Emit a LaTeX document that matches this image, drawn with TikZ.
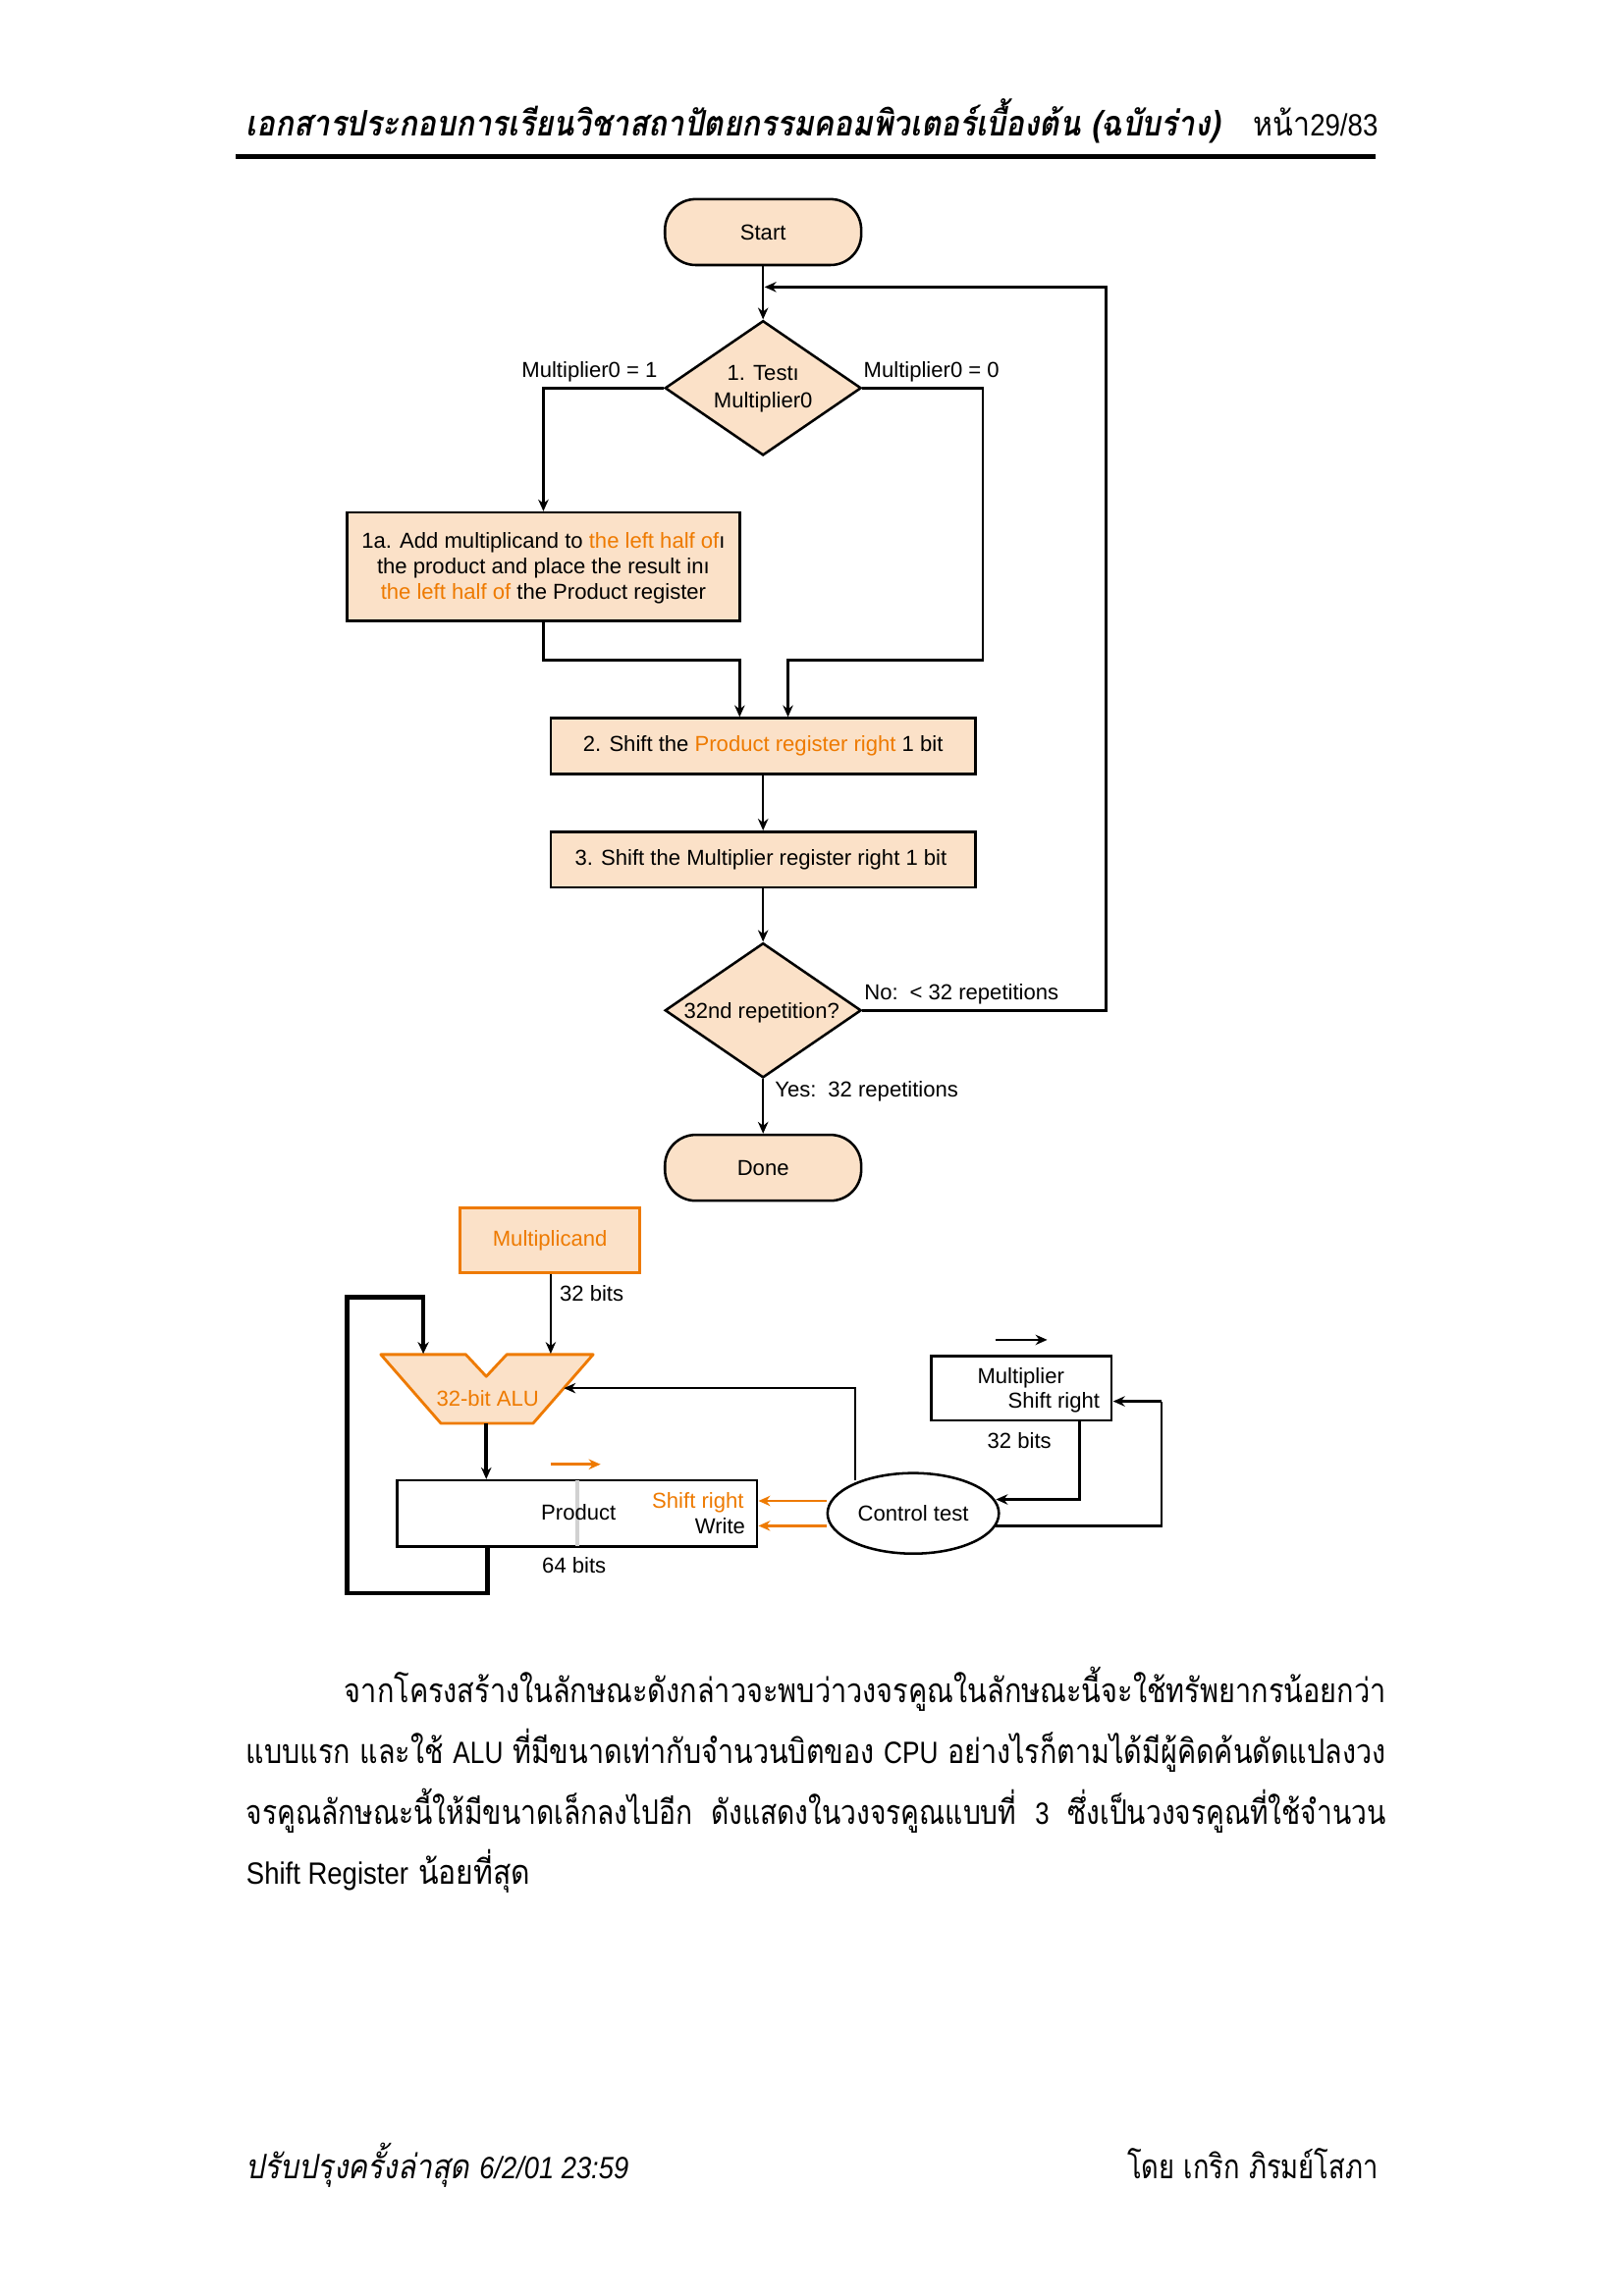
\documentclass[tikz,border=0pt]{standalone}
\usepackage{fontspec}
\usepackage{graphicx}
\usetikzlibrary{shapes.geometric,arrows.meta,calc}
\setmainfont{Liberation Sans}
\newfontfamily\thai[Script=Thai,ItalicFont={Loma Oblique},BoldFont={Loma Bold},BoldItalicFont={Loma Bold Oblique}]{Loma}
\definecolor{peach}{HTML}{FBE1C8}
\definecolor{orng}{HTML}{EE7A00}
\newcommand{\fitw}[2]{\resizebox{#1pt}{\height}{#2}}
\newcommand{\lat}[1]{{\fontfamily{\rmdefault}\fontsize{21}{24}\selectfont #1}}
\newcommand{\dn}[1]{\raisebox{-1pt}{#1}}
\tikzset{
 x=1pt,y=-1pt,
 lab/.style={inner sep=0,font=\fontsize{14.8}{17.7}\selectfont},
 term/.style={draw,fill=peach,line width=1.7pt,rounded corners=21pt,minimum width=134pt,minimum height=45pt,inner sep=0,font=\fontsize{14.8}{17.7}\selectfont},
 dec/.style={draw,fill=peach,line width=1.7pt,diamond,aspect=1.457,minimum width=134pt,minimum height=92pt,inner sep=0},
 proc/.style={draw,fill=peach,line width=1.7pt,minimum height=38pt,inner sep=0,align=center,font=\fontsize{14.8}{17.7}\selectfont},
 reg/.style={draw,line width=1.7pt,inner sep=0,font=\fontsize{14.8}{17.7}\selectfont},
 inner/.style={lab,align=center,label distance=0pt},
 conn/.style={line width=1.7pt},
 arr/.style={line width=1.7pt,-{Stealth[length=8pt,width=7pt]}},
 thick loop/.style={line width=3.2pt,line join=miter,-{Stealth[length=8pt,width=7.5pt]}},
 oarr/.style={arr,line width=1.9pt,color=orng},
 thtext/.style={inner sep=0,anchor=base west,font=\thai\fontsize{23}{26}\selectfont},
}
\begin{document}
\begin{tikzpicture}
\useasboundingbox[fill=white] (0,0) rectangle (1108.1,1568);
% header
\node[thtext,font=\thai\bfseries\itshape\fontsize{24}{26}\selectfont] (hdr) at (168,93) {\fitw{665}{เอกสารประกอบการเรียนวิชาสถาปัตยกรรมคอมพิวเตอร์เบื้องต้น (ฉบับร่าง)}};
\node[thtext,anchor=base east] (pg) at (941,93) {\fitw{85}{หน้า\lat{29/83}}};
\fill (161,105) rectangle (939,108.8);
% flowchart
\node[term] (start) at (521,158.5) {\dn{Start}};
\node[dec,label={[inner,font=\fontsize{14.8}{18.7}\selectfont,yshift=-0.8pt]center:1. Testı\\Multiplier0}] (d1) at (521,265) {};
\node[proc,minimum width=268pt,minimum height=74pt,label={[inner,yshift=-1pt]center:1a. Add multiplicand to \textcolor{orng}{the left half of}ı\\the product and place the result inı\\\textcolor{orng}{the left half of} the Product register}] (b1) at (371,387) {};
\node[proc,minimum width=290pt] (b2) at (521,509.5) {\dn{2. Shift the \textcolor{orng}{Product register right} 1 bit}};
\node[proc,minimum width=290pt] (b3) at (521,587) {\dn{\hspace{-3pt}3. Shift the Multiplier register right 1 bit}};
\node[dec,label={[inner,yshift=-1.5pt,xshift=-1pt]center:32nd repetition?}] (d2) at (521,690) {};
\node[term] (done) at (521,797.5) {\dn{Done}};
\node[lab] (m1) at (402.5,254) {Multiplier0 = 1};
\node[lab] (m0) at (636,254) {Multiplier0 = 0};
\node[lab,anchor=west] (no) at (590,679) {No: \,< 32 repetitions};
\node[lab,anchor=west] (yes) at (529,745) {Yes:\, 32 repetitions};
\coordinate (merge) at (521,196);
\coordinate (loopc) at (755,196);
\draw[arr] (start) -- (d1);
\draw[arr] (d2.east) -- (d2.east -| loopc) -- (loopc) -- ([xshift=1pt]merge);
\draw[arr] (d1.west) -| (b1.north);
\coordinate (j1) at (505,451);
\coordinate (j2) at (538,451);
\draw[arr] (b1.south) |- (j1) -- (j1 |- b2.north);
\draw[arr] (d1.east) -| (671,451) -- (j2) -- (j2 |- b2.north);
\draw[arr] (b2) -- (b3);
\draw[arr] (b3) -- (d2);
\draw[arr] (d2) -- (done);
% datapath
\node[draw=orng,fill=peach,line width=1.9pt,minimum width=123pt,minimum height=44pt,inner sep=0,text=orng,font=\fontsize{14.8}{17.7}\selectfont] (mcand) at (375.5,847) {\raisebox{-0.5pt}{Multiplicand}};
\node[lab] (b32a) at (404,883) {32 bits};
\draw[draw=orng,fill=peach,line width=1.9pt,line join=round] (260,925) -- (318,925) -- (332,940) -- (346,925) -- (405,925) -- (364,972) -- (301,972) -- cycle;
\node[lab,text=orng] (alu) at (333,955) {32-bit ALU};
\coordinate (aluin1) at (289,924.5);
\coordinate (aluin2) at (376,924.5);
\coordinate (aluout) at (332,972);
\coordinate (alur) at (385,948);
\node[reg,minimum width=246pt,minimum height=45pt] (prod) at (394,1033.5) {};
\draw[line width=2.5pt,black!18,shorten <=1pt,shorten >=1pt] (prod.north) -- (prod.south);
\node[lab] (prodt) at (395,1033) {Product};
\node[lab,anchor=east,text=orng] (sr1) at (508,1026) {Shift right};
\node[lab,anchor=east] (wr) at (509,1042) {Write};
\node[lab] (b64) at (392,1069) {64 bits};
\node[reg,minimum width=123pt,minimum height=44pt] (mplier) at (697.5,948) {};
\node[lab] (mt) at (697,941) {Multiplier};
\node[lab,anchor=east] (ms) at (751,958) {Shift right};
\node[lab] (b32b) at (696,984) {32 bits};
\node[reg,ellipse,minimum width=117pt,minimum height=55pt] (ctl) at (623.5,1033.5) {Control test};
\draw[arr] (mcand.south -| aluin2) -- (aluin2);
\draw[arr,line width=2.6pt] (aluout) -- (aluout |- prod.north);
\coordinate (loopb) at (333,1088);
\coordinate (loopl) at (237,1088);
\coordinate (loopt) at (237,886);
\draw[thick loop] (prod.south -| loopb) -- (loopb) -- (loopl) -- (loopt) -- (aluin1 |- loopt) -- (aluin1);
\coordinate (c1) at (584,1011);
\draw[arr] (c1) |- (alur);
\coordinate (c2) at (680,1024);
\draw[arr] (mplier.south -| 737,0) |- (c2);
\coordinate (c3) at (680,1042);
\draw[conn] (c3) -- (793,1042) -- (793,957);
\draw[arr] (793,957) -- (760,957);
\draw[oarr] (ctl.west |- 0,1025) -- (prod.east |- 0,1025);
\draw[oarr] (ctl.west |- 0,1042) -- (prod.east |- 0,1042);
\coordinate (oa1) at (376,1000); \coordinate (oa2) at (410,1000);
\draw[oarr] (oa1) -- (oa2);
\coordinate (ba1) at (680,915); \coordinate (ba2) at (715,915);
\draw[arr] (ba1) -- (ba2);
% body
\node[thtext] (l1) at (235,1163) {\fitw{711}{จากโครงสร้างในลักษณะดังกล่าวจะพบว่าวงจรคูณในลักษณะนี้จะใช้ทรัพยากรน้อยกว่า}};
\node[thtext] (l2) at (168,1204.5) {\fitw{778}{แบบแรก และใช้ \lat{ALU} ที่มีขนาดเท่ากับจำนวนบิตของ \lat{CPU} อย่างไรก็ตามได้มีผู้คิดค้นดัดแปลงวง}};
\node[thtext] (l3) at (168,1246) {\fitw{778}{จรคูณลักษณะนี้ให้มีขนาดเล็กลงไปอีก\ \ ดังแสดงในวงจรคูณแบบที่\ \ \lat{3}\ \ ซึ่งเป็นวงจรคูณที่ใช้จำนวน}};
\node[thtext] (l4) at (168,1287) {\fitw{194}{\lat{Shift Register} น้อยที่สุด}};
% footer
\node[thtext,font=\thai\itshape\fontsize{23}{26}\selectfont] (f1) at (168,1488) {\fitw{261}{ปรับปรุงครั้งล่าสุด \lat{\itshape 6/2/01 23:59}}};
\node[thtext,anchor=base east] (f2) at (941,1488) {\fitw{171}{โดย เกริก ภิรมย์โสภา}};
\end{tikzpicture}
\end{document}
